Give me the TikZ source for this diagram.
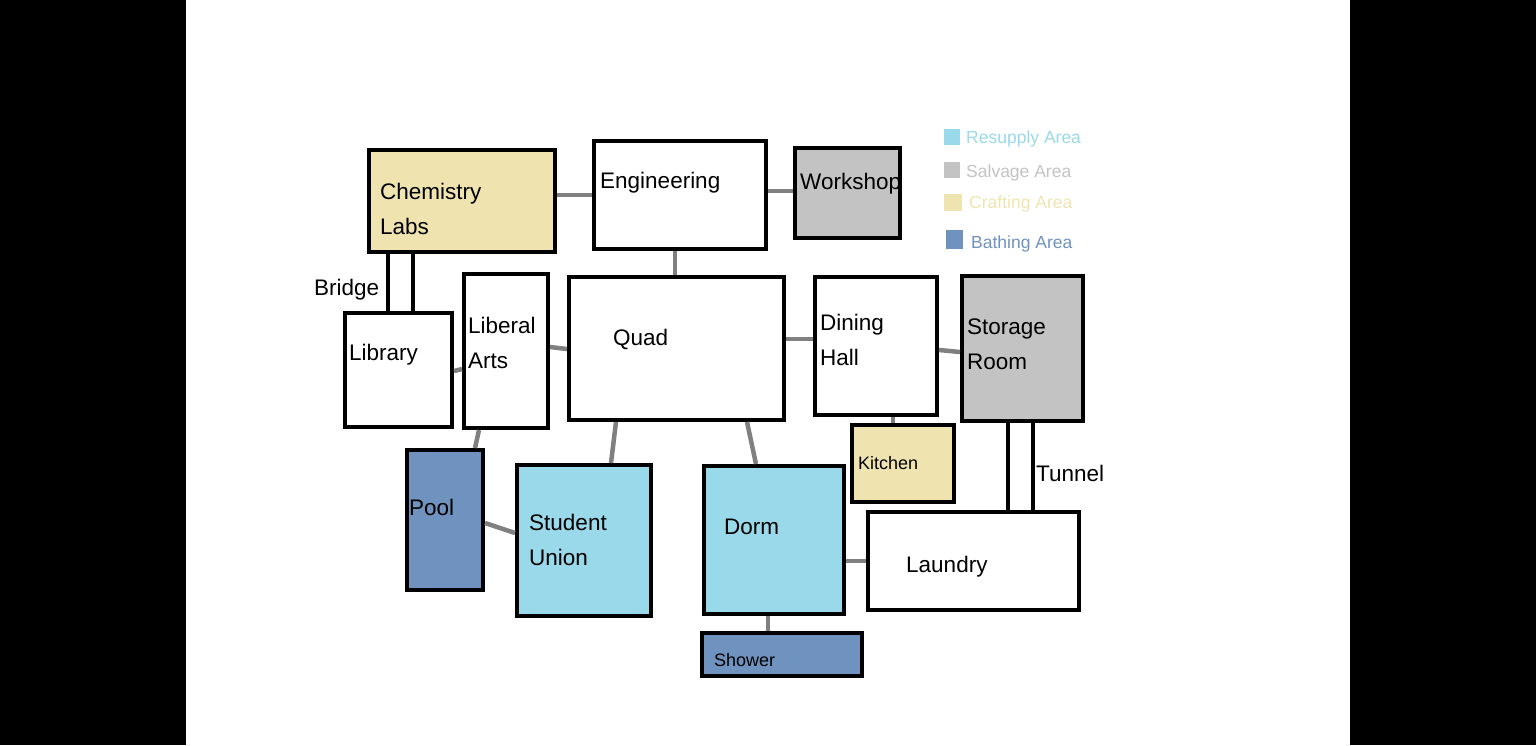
\documentclass[tikz,border=0pt]{standalone}
\usepackage{fontspec}
\setmainfont{Liberation Sans}
\definecolor{craft}{HTML}{EFE4B0}
\definecolor{salv}{HTML}{C3C3C3}
\definecolor{resup}{HTML}{99D9EA}
\definecolor{bath}{HTML}{7092BE}
\definecolor{conn}{HTML}{808080}
\begin{document}
\begin{tikzpicture}[x=1pt,y=-1pt,
  room/.style={draw=black,line width=4pt,inner sep=0pt},
  lbl/.style={anchor=west,font=\fontsize{22.5}{35}\selectfont,align=left,inner sep=0pt},
  con/.style={draw=conn,line width=4.5pt},
  leg/.style={anchor=west,font=\fontsize{17.5}{17}\selectfont,inner sep=0pt}]
\useasboundingbox (0,0) rectangle (1536,745);
\fill[black] (0,0) rectangle (186,745);
\fill[black] (1350,0) rectangle (1536,745);
\newcommand{\room}[6]{\node[room,fill=#6,minimum width={#4-#2},minimum height={#5-#3}] (#1) at ({(#2+#4)/2},{(#3+#5)/2}) {};}
\room{chem}{369}{150}{555}{252}{craft}
\room{eng}{594}{141}{766}{249}{white}
\room{work}{795}{148}{900}{238}{salv}
\room{bridge}{388}{252}{413}{313}{white}
\room{lib}{345}{313}{452}{427}{white}
\room{lib2}{464}{274}{548}{428}{white}
\room{quad}{569}{277}{784}{420}{white}
\room{dining}{815}{277}{937}{415}{white}
\room{storage}{962}{276}{1083}{421}{salv}
\room{kitchen}{852}{425}{954}{502}{craft}
\room{tunnel}{1008}{421}{1033}{512}{white}
\room{laundry}{868}{512}{1079}{610}{white}
\room{pool}{407}{450}{483}{590}{bath}
\room{su}{517}{465}{651}{616}{resup}
\room{dorm}{704}{466}{844}{614}{resup}
\room{shower}{702}{633}{862}{676}{bath}
% connectors
\draw[con] (chem.east|-{(0,195)}) -- (eng.west|-{(0,195)});
\draw[con] (eng.east|-{(0,191)}) -- (work.west|-{(0,191)});
\draw[con] (eng.south-|{(675,0)}) -- (quad.north-|{(675,0)});
\draw[con] (lib.east|-{(0,371)}) -- (lib2.west|-{(0,369)});
\draw[con] (lib2.east|-{(0,347)}) -- (quad.west|-{(0,349)});
\draw[con] (quad.east|-{(0,339)}) -- (dining.west|-{(0,339)});
\draw[con] (dining.east|-{(0,350)}) -- (storage.west|-{(0,352)});
\draw[con] (dining.south-|{(893,0)}) -- (kitchen.north-|{(893,0)});
\draw[con] (lib2.south-|{(479,0)}) -- (pool.north-|{(475,0)});
\draw[con] (pool.east|-{(0,523)}) -- (su.west|-{(0,533)});
\draw[con] (quad.south-|{(616,0)}) -- (su.north-|{(611,0)});
\draw[con] (quad.south-|{(747,0)}) -- (dorm.north-|{(756,0)});
\draw[con] (dorm.east|-{(0,561)}) -- (laundry.west|-{(0,561)});
\draw[con] (dorm.south-|{(768,0)}) -- (shower.north-|{(768,0)});
% labels
\node[lbl] (tchem) at (380,209) {Chemistry\\Labs};
\node[lbl] (teng) at (600,183) {Engineering};
\node[lbl] (twork) at (800,184) {Workshop};
\node[lbl] (tbridge) at (314,290) {Bridge};
\node[lbl] (tlib) at (349,355) {Library};
\node[lbl] (tlib2) at (468,343) {Liberal\\Arts};
\node[lbl] (tquad) at (613,339) {Quad};
\node[lbl] (tdin) at (820,340) {Dining\\Hall};
\node[lbl] (tsto) at (967,344) {Storage\\Room};
\node[lbl,font=\fontsize{18}{18}\selectfont] (tkit) at (858,463) {Kitchen};
\node[lbl] (ttun) at (1036,473) {Tunnel};
\node[lbl] (tlau) at (906,567) {Laundry};
\node[lbl] (tpool) at (409,507) {Pool};
\node[lbl] (tsu) at (529,540) {Student\\Union};
\node[lbl] (tdorm) at (724,527) {Dorm};
\node[lbl,font=\fontsize{18}{18}\selectfont] (tsh) at (714,660) {Shower};
% legend
\fill[resup] (944,129) rectangle (960,145);
\node[leg,text=resup] (l1) at (966,139) {Resupply Area};
\fill[salv] (944,162) rectangle (960,178);
\node[leg,text=salv] (l2) at (966,173) {Salvage Area};
\fill[craft] (944,194) rectangle (962,211);
\node[leg,text=craft] (l3) at (969,204) {Crafting Area};
\fill[bath] (946,230) rectangle (963,249);
\node[leg,text=bath] (l4) at (971,244) {Bathing Area};
\end{tikzpicture}
\end{document}
